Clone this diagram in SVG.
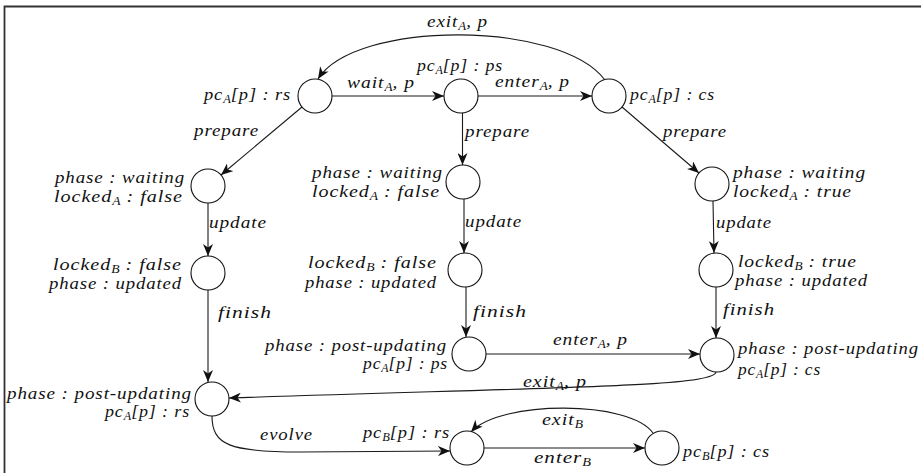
<svg xmlns="http://www.w3.org/2000/svg" width="921" height="473" viewBox="0 0 921 473">
<defs>
<style>
.n{fill:#fff;stroke:#111;stroke-width:1.1}
.e{fill:none;stroke:#1a1a1a;stroke-width:1.1;marker-end:url(#ah)}
text{font-family:"Liberation Serif","Times New Roman",serif;font-style:italic;font-size:17px;letter-spacing:0.8px;fill:#111}
.s{font-size:11.5px;letter-spacing:0}
</style>
<marker id="ah" markerUnits="userSpaceOnUse" markerWidth="14" markerHeight="10" refX="12" refY="5" orient="auto">
<path d="M0,0 L12,5 L0,10 L3.5,5 z" fill="#111"/>
</marker>
</defs>
<rect width="921" height="473" fill="#fff"/>
<path d="M4.5 473 V6.5 H921" fill="none" stroke="#333" stroke-width="1.8"/>
<g id="edges">
<path class="e" d="M605 80 C560 20, 355 20, 318 79"/>
<path class="e" d="M332 96 L444 96"/>
<path class="e" d="M478 96 L592 96"/>
<path class="e" d="M302 107 L221 175"/>
<path class="e" d="M462.5 113 L462.5 165"/>
<path class="e" d="M622 107 L699 173"/>
<path class="e" d="M208 203 L208 256"/>
<path class="e" d="M464 199 L464 253"/>
<path class="e" d="M713 201 L714 253"/>
<path class="e" d="M208 290 L208 382"/>
<path class="e" d="M466 287 L466 337"/>
<path class="e" d="M716 287 L716 338"/>
<path class="e" d="M486 354 L700 354"/>
<path class="e" d="M716 372 C714 387, 560 387, 229 398"/>
<path class="e" d="M212 416 C212 445, 230 452, 300 452 L450 451"/>
<path class="e" d="M653 433 C630 400, 500 400, 471 432"/>
<path class="e" d="M484 448 L645 448"/>
<text x="427" y="27" textLength="61" lengthAdjust="spacingAndGlyphs">exit<tspan class="s" dy="3">A</tspan><tspan dy="-3">, p</tspan></text>
<text x="347" y="88" textLength="68" lengthAdjust="spacingAndGlyphs">wait<tspan class="s" dy="3">A</tspan><tspan dy="-3">, p</tspan></text>
<text x="495" y="87" textLength="75" lengthAdjust="spacingAndGlyphs">enter<tspan class="s" dy="3">A</tspan><tspan dy="-3">, p</tspan></text>
<text x="194" y="136" textLength="65" lengthAdjust="spacingAndGlyphs">prepare</text>
<text x="465" y="137" textLength="65" lengthAdjust="spacingAndGlyphs">prepare</text>
<text x="663" y="137" textLength="64" lengthAdjust="spacingAndGlyphs">prepare</text>
<text x="209" y="228" textLength="58" lengthAdjust="spacingAndGlyphs">update</text>
<text x="465" y="227" textLength="57" lengthAdjust="spacingAndGlyphs">update</text>
<text x="716" y="228" textLength="56" lengthAdjust="spacingAndGlyphs">update</text>
<text x="218" y="318" textLength="54" lengthAdjust="spacingAndGlyphs">finish</text>
<text x="473" y="317" textLength="54" lengthAdjust="spacingAndGlyphs">finish</text>
<text x="723" y="315" textLength="52" lengthAdjust="spacingAndGlyphs">finish</text>
<text x="553" y="345" textLength="75" lengthAdjust="spacingAndGlyphs">enter<tspan class="s" dy="3">A</tspan><tspan dy="-3">, p</tspan></text>
<text x="523" y="387" textLength="64" lengthAdjust="spacingAndGlyphs">exit<tspan class="s" dy="3">A</tspan><tspan dy="-3">, p</tspan></text>
<text x="260" y="440" textLength="53" lengthAdjust="spacingAndGlyphs">evolve</text>
<text x="542" y="425" textLength="41" lengthAdjust="spacingAndGlyphs">exit<tspan class="s" dy="3">B</tspan></text>
<text x="534" y="463" textLength="57" lengthAdjust="spacingAndGlyphs">enter<tspan class="s" dy="3">B</tspan></text>
</g>

<g id="n-rs">
<circle class="n" cx="315" cy="96" r="17"/>
<text x="204" y="100" textLength="87" lengthAdjust="spacingAndGlyphs">pc<tspan class="s" dy="3">A</tspan><tspan dy="-3">[p] : rs</tspan></text>
</g>
<g id="n-ps">
<circle class="n" cx="461" cy="96" r="17"/>
<text x="417" y="71" textLength="86" lengthAdjust="spacingAndGlyphs">pc<tspan class="s" dy="3">A</tspan><tspan dy="-3">[p] : ps</tspan></text>
</g>
<g id="n-cs">
<circle class="n" cx="609" cy="96" r="17"/>
<text x="630" y="100" textLength="85" lengthAdjust="spacingAndGlyphs">pc<tspan class="s" dy="3">A</tspan><tspan dy="-3">[p] : cs</tspan></text>
</g>
<g id="n-l1">
<circle class="n" cx="208" cy="186" r="17"/>
<text x="55" y="183" textLength="130" lengthAdjust="spacingAndGlyphs">phase : waiting</text>
<text x="54" y="202" textLength="129" lengthAdjust="spacingAndGlyphs">locked<tspan class="s" dy="3">A</tspan><tspan dy="-3"> : false</tspan></text>
</g>
<g id="n-l2">
<circle class="n" cx="208" cy="273" r="17"/>
<text x="53" y="270" textLength="129" lengthAdjust="spacingAndGlyphs">locked<tspan class="s" dy="3">B</tspan><tspan dy="-3"> : false</tspan></text>
<text x="49" y="289" textLength="133" lengthAdjust="spacingAndGlyphs">phase : updated</text>
</g>
<g id="n-l3">
<circle class="n" cx="212" cy="399" r="17"/>
<text x="7" y="399" textLength="185" lengthAdjust="spacingAndGlyphs">phase : post-updating</text>
<text x="105" y="417" textLength="85" lengthAdjust="spacingAndGlyphs">pc<tspan class="s" dy="3">A</tspan><tspan dy="-3">[p] : rs</tspan></text>
</g>
<g id="n-m1">
<circle class="n" cx="463" cy="182" r="17"/>
<text x="312" y="178" textLength="131" lengthAdjust="spacingAndGlyphs">phase : waiting</text>
<text x="312" y="197" textLength="128" lengthAdjust="spacingAndGlyphs">locked<tspan class="s" dy="3">A</tspan><tspan dy="-3"> : false</tspan></text>
</g>
<g id="n-m2">
<circle class="n" cx="465" cy="270" r="17"/>
<text x="308" y="268" textLength="129" lengthAdjust="spacingAndGlyphs">locked<tspan class="s" dy="3">B</tspan><tspan dy="-3"> : false</tspan></text>
<text x="305" y="288" textLength="132" lengthAdjust="spacingAndGlyphs">phase : updated</text>
</g>
<g id="n-m3">
<circle class="n" cx="469" cy="354" r="17"/>
<text x="265" y="351" textLength="182" lengthAdjust="spacingAndGlyphs">phase : post-updating</text>
<text x="363" y="369" textLength="85" lengthAdjust="spacingAndGlyphs">pc<tspan class="s" dy="3">A</tspan><tspan dy="-3">[p] : ps</tspan></text>
</g>
<g id="n-r1">
<circle class="n" cx="712" cy="184" r="17"/>
<text x="733" y="178" textLength="133" lengthAdjust="spacingAndGlyphs">phase : waiting</text>
<text x="733" y="197" textLength="119" lengthAdjust="spacingAndGlyphs">locked<tspan class="s" dy="3">A</tspan><tspan dy="-3"> : true</tspan></text>
</g>
<g id="n-r2">
<circle class="n" cx="716" cy="270" r="17"/>
<text x="738" y="267" textLength="119" lengthAdjust="spacingAndGlyphs">locked<tspan class="s" dy="3">B</tspan><tspan dy="-3"> : true</tspan></text>
<text x="735" y="286" textLength="133" lengthAdjust="spacingAndGlyphs">phase : updated</text>
</g>
<g id="n-r3">
<circle class="n" cx="717" cy="355" r="17"/>
<text x="738" y="354" textLength="181" lengthAdjust="spacingAndGlyphs">phase : post-updating</text>
<text x="738" y="375" textLength="83" lengthAdjust="spacingAndGlyphs">pc<tspan class="s" dy="3">A</tspan><tspan dy="-3">[p] : cs</tspan></text>
</g>
<g id="n-b1">
<circle class="n" cx="467" cy="448" r="17"/>
<text x="363" y="438" textLength="87" lengthAdjust="spacingAndGlyphs">pc<tspan class="s" dy="3">B</tspan><tspan dy="-3">[p] : rs</tspan></text>
</g>
<g id="n-b2">
<circle class="n" cx="662" cy="448" r="17"/>
<text x="683" y="457" textLength="87" lengthAdjust="spacingAndGlyphs">pc<tspan class="s" dy="3">B</tspan><tspan dy="-3">[p] : cs</tspan></text>
</g>
</svg>
